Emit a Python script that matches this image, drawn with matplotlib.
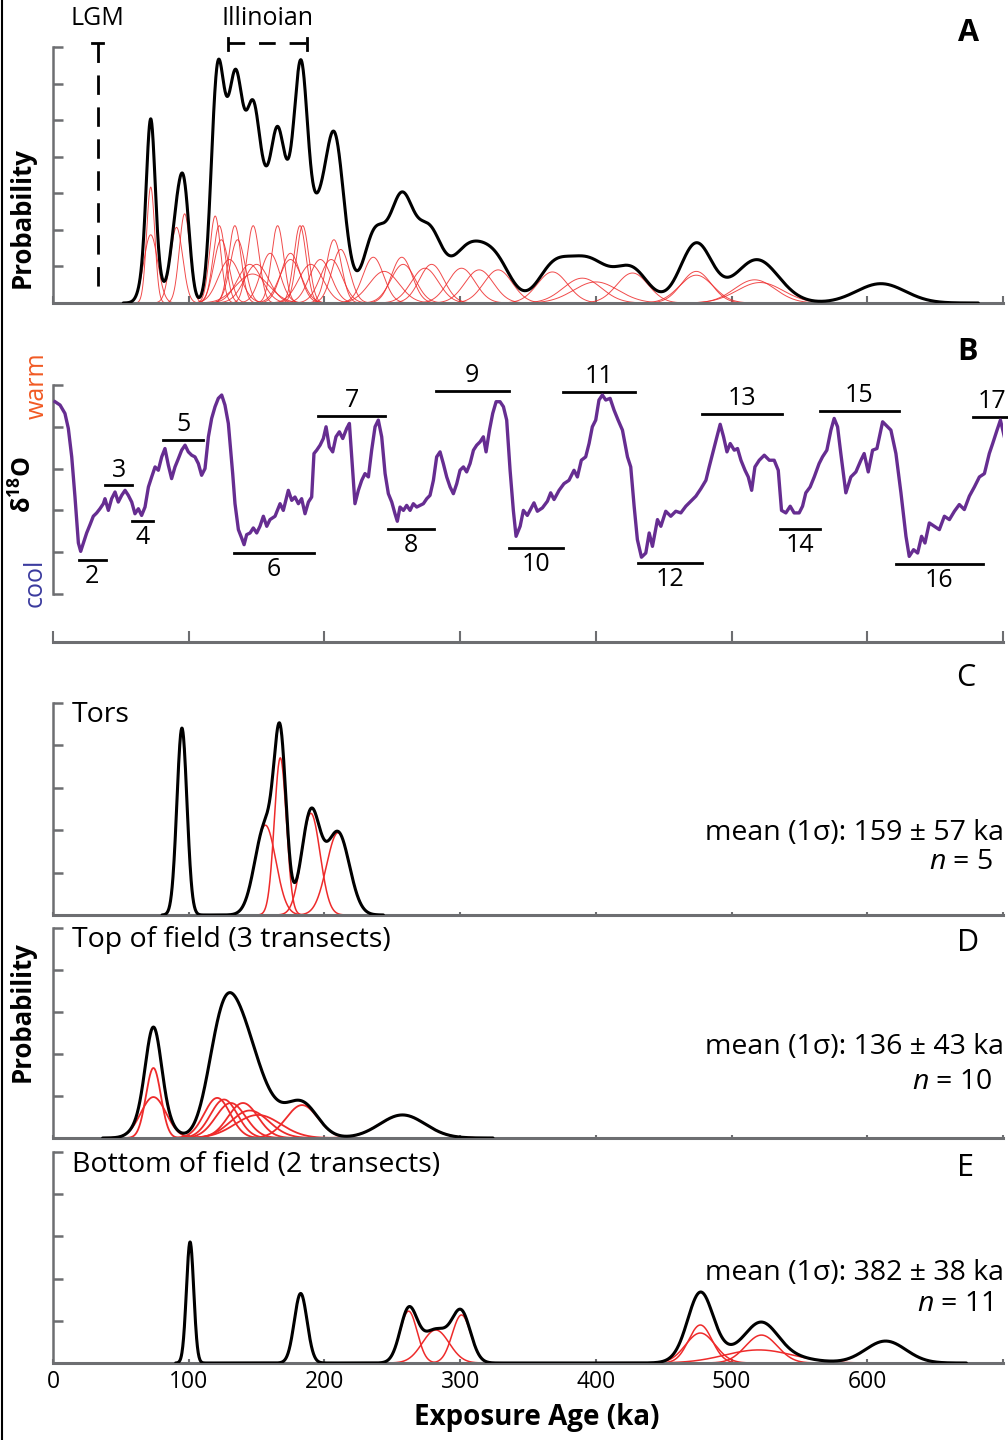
import numpy as np
import matplotlib
matplotlib.use('Agg')
import matplotlib.pyplot as plt
from matplotlib.lines import Line2D
from matplotlib.transforms import blended_transform_factory

plt.rcParams['font.family'] = ['Open Sans', 'DejaVu Sans']
plt.rcParams['mathtext.fontset'] = 'custom'
plt.rcParams['mathtext.rm'] = 'Open Sans'
plt.rcParams['mathtext.it'] = 'Open Sans:italic'
plt.rcParams['mathtext.bf'] = 'Open Sans:bold'

# ---------------- data ----------------
# panel A: all exposure ages (ka) and 1-sigma (ka)
ages_A = [72, 72, 91, 97, 119.5, 122.5, 124, 130, 134, 136, 145, 147, 147.5, 150, 160,
          165.5, 175, 175, 182, 184, 190, 197, 205, 207, 212,
          236, 244, 257, 258, 274, 279, 301, 314, 328, 368, 390, 400, 427, 474, 474,
          517, 521, 610]
sig_A = [3.0, 5.1, 4.6, 3.9, 4.0, 4.5, 5.5, 8, 4.5, 5.5, 9, 12, 4.5, 9, 7,
         4.5, 8, 7, 4.5, 4.5, 9, 8, 8, 5.5, 6.5,
         7.6, 11, 7.6, 9, 10, 9, 10, 10.5, 10.5, 11.2, 14, 16.5, 11.6, 11, 12.5,
         15, 17, 18]

# panel C: tors
ages_C = [95, 156.5, 167.5, 190, 210]
sig_C = [3.7, 7.7, 4.4, 6.8, 8.4]

# panel D: top of field
ages_D = [74, 74, 121, 126, 131, 140, 145, 151, 183.5, 257.5]
sig_D = [5.5, 9.4, 9.6, 10, 11, 11, 14, 16.7, 11.7, 16.7]

# panel E: bottom of field
ages_E = [101, 182.5, 262, 282, 301, 477, 477, 522, 520, 613.5]
sig_E = [2.7, 4.7, 6.3, 9.9, 6.8, 8.6, 10.9, 11.7, 25, 14.9]

# panel B: benthic d18O stack (per mil)
d18_age = [1.5, 5.2, 8.8, 11.3, 13.8, 16.2, 18.7, 20.4, 22.4, 24.8, 27.3, 29.7, 32.2, 34.6,
           37.1, 38.3, 40.8, 43.2, 45.7, 48.1, 50.6, 53.1, 55.5, 58, 60.4, 62.9, 65.3, 67.8,
           70.3, 72.7, 75.2, 77.6, 80.1, 82.5, 85, 87.4, 89.9, 92.4, 94.8, 97.3, 99.7, 102.2,
           104.6, 107.1, 109.5, 112, 114.5, 116.9, 119.4, 121.8, 124.3, 126.7, 129.2, 130.9,
           132.4, 134.1, 136.6, 139, 140.8, 142.7, 145.2, 147.6, 150.1, 152.5, 155, 157.5,
           159.9, 163.6, 167.3, 169.7, 173.4, 175.9, 178.3, 180.8, 183.2, 185.7, 188.2,
           190.6, 192.3, 194.3, 196.8, 199.2, 201.2, 203.6, 206.1, 208.5, 211, 213.5, 216.4,
           218.4, 220.1, 222.5, 225, 227.5, 229.9, 232.4, 234.8, 237.3, 239.7, 242.2, 244.7,
           247.1, 249.6, 252, 253.7, 255.7, 258.2, 260.6, 263.1, 265.5, 268, 270.4, 272.9,
           275.4, 277.8, 280.3, 282.7, 285.2, 287.6, 290.1, 292.6, 295, 297.5, 299.9, 302.4,
           304.8, 307.3, 309.8, 312.2, 314.7, 317.1, 319.1, 321.6, 324, 326.5, 329.4, 331.9,
           334.3, 336.8, 339.2, 341.2, 344.2, 346.6, 349.5,
           354.4, 356.9, 360.6, 364.3, 366.7, 369.2, 372.9, 376.5, 380.2, 383.9, 386.4,
           389.3, 392.5, 395, 397.4, 399.9, 402.3, 404.8, 407.3, 410.5, 413.4, 416.4, 419.6,
           423.3, 425.7, 428.2, 430.6, 433.6, 436.8, 439.3, 441.7, 445.4, 447.9, 451.5,
           455.2, 458.9, 462.6, 466.3, 470, 473.7, 477.4, 481.1, 483.5, 486, 489.2, 491.6,
           494.1, 496.6, 499, 502, 504.4, 506.9, 509.9, 512.3, 514.8, 517.2, 520.4, 524.1,
           527.8, 531.4, 534.4, 536.8, 540, 543.2, 546.1, 549.8, 552.3, 554.7, 557.9, 560.9,
           564.5, 567, 570.2, 573.2, 575.6, 578.1, 580.5, 584.2, 587.9, 591.6, 595.3, 597.7,
           600.7, 603.9, 607.1, 609.5, 611.3, 615, 617.4, 621.1, 624.8, 628.5, 630.9, 634.1,
           637.1, 640, 642.5, 645.7, 649.4, 653.1, 656.8, 660.5, 664.2, 667.8, 671.5, 675.2,
           678.9, 682.6, 686.3, 689.9, 692.4, 695.6, 698.1, 701]
d18_val = [3.20, 3.24, 3.34, 3.52, 3.86, 4.34, 4.89, 4.99, 4.89, 4.77, 4.67, 4.57, 4.53, 4.48,
           4.42, 4.36, 4.50, 4.36, 4.28, 4.40, 4.32, 4.26, 4.32, 4.40, 4.54, 4.48, 4.56, 4.46,
           4.22, 4.10, 3.98, 4.02, 3.86, 3.76, 3.96, 4.12, 3.98, 3.88, 3.78, 3.72, 3.80, 3.84,
           3.86, 3.94, 4.08, 4.00, 3.62, 3.40, 3.26, 3.16, 3.12, 3.24, 3.46, 3.78,
           4.06, 4.42, 4.73, 4.83, 4.91, 4.79, 4.77, 4.71, 4.77, 4.69, 4.57, 4.69,
           4.61, 4.57, 4.42, 4.50, 4.26, 4.38, 4.34, 4.42, 4.36, 4.54, 4.40,
           4.34, 3.82, 3.78, 3.72, 3.64, 3.50, 3.74, 3.80, 3.62, 3.56, 3.64, 3.52,
           3.46, 3.86, 4.42, 4.26, 4.14, 4.06, 4.10, 3.78, 3.50, 3.42, 3.62, 4.06,
           4.30, 4.40, 4.54, 4.63, 4.46, 4.50, 4.44, 4.50, 4.42, 4.46, 4.44, 4.42,
           4.36, 4.32, 4.14, 3.86, 3.80, 3.94, 4.10, 4.22, 4.30, 4.18, 4.02, 3.98,
           4.04, 3.94, 3.78, 3.72, 3.68, 3.62, 3.80, 3.54, 3.34, 3.20, 3.20, 3.26,
           3.42, 4.02, 4.50, 4.81, 4.69, 4.50, 4.56,
           4.41, 4.51, 4.47, 4.39, 4.29, 4.37, 4.26, 4.18, 4.14, 4.02, 4.10,
           3.90, 3.86, 3.70, 3.50, 3.42, 3.18, 3.12, 3.18, 3.16, 3.30, 3.42, 3.54,
           3.86, 3.98, 4.45, 4.85, 5.06, 5.01, 4.77, 4.93, 4.61, 4.69, 4.51,
           4.57, 4.51, 4.53, 4.45, 4.39, 4.33, 4.24, 4.14, 3.98, 3.82, 3.62, 3.47,
           3.62, 3.80, 3.70, 3.78, 3.76, 3.90, 4.02, 4.10, 4.26, 3.98, 3.90, 3.84,
           3.90, 3.90, 4.02, 4.50, 4.53, 4.45, 4.53, 4.53, 4.45, 4.29, 4.22, 4.10,
           3.94, 3.86, 3.78, 3.54, 3.40, 3.50, 3.82, 4.29, 4.10, 4.04, 3.90, 3.82,
           4.04, 3.78, 3.76, 3.58, 3.44, 3.50, 3.54, 3.82, 4.29, 4.81, 5.05, 4.97,
           5.01, 4.81, 4.89, 4.65, 4.69, 4.73, 4.57, 4.61, 4.51, 4.43, 4.49, 4.33,
           4.22, 4.10, 4.06, 3.82, 3.70, 3.54, 3.42, 3.62]

# marine isotope stages
mis_num = [2, 3, 4, 5, 6, 7, 8, 9, 10, 11, 12, 13, 14, 15, 16, 17]
mis_start = [19, 38.4, 58.3, 81, 133, 195.6, 247, 282, 336, 376, 431, 478, 536, 565, 621, 678]
mis_end = [39, 58.3, 73.8, 110.7, 192, 244.3, 281, 336, 376, 429, 478, 537, 565, 623, 685, 706]
mis_level = [5.09, 4.20, 4.63, 3.66, 5.01, 3.37, 4.72, 3.07, 4.95, 3.08, 5.13, 3.35,
             4.72, 3.31, 5.14, 3.38]

lgm_age = 33
illinoian = (128.7, 187.4)

stats_C = ('mean (1σ): 159 ± 57 ka', '$\\mathit{n}$ = 5')
stats_D = ('mean (1σ): 136 ± 43 ka', '$\\mathit{n}$ = 10')
stats_E = ('mean (1σ): 382 ± 38 ka', '$\\mathit{n}$ = 11')

# ---------------- style ----------------
GRAY = '#6d6e71'
RED = '#ee2b2b'
PURPLE = '#662d91'
W, H = 1008, 1440
XL, XW = 53, 950


def fx(px):
    return px / W


def fy(py):
    return 1 - py / H


def box(top, bot):
    return [XL / W, 1 - bot / H, XW / W, (bot - top) / H]


def gauss(x, mu, s):
    return np.exp(-0.5 * ((x - mu) / s) ** 2) / (s * np.sqrt(2 * np.pi))


def style(ax, ymax, nint, xtl):
    ax.set_xlim(0, 700)
    ax.set_ylim(0, ymax)
    for s in ['top', 'right']:
        ax.spines[s].set_visible(False)
    ax.spines['left'].set_color(GRAY)
    ax.spines['left'].set_linewidth(1.8)
    ax.spines['bottom'].set_color(GRAY)
    ax.spines['bottom'].set_linewidth(2.2)
    ax.set_yticks(np.linspace(0, ymax, nint + 1))
    ax.set_xticks(np.arange(0, 701, 100))
    ax.tick_params(axis='y', direction='in', length=7, width=1.8, color=GRAY, labelleft=False)
    ax.tick_params(axis='x', direction='in', length=xtl, width=1.5, color=GRAY, labelbottom=False)


def prob(ax, ages, sigs, red_lw, red_alpha):
    x = np.linspace(0, 700, 3501)
    total = np.zeros_like(x)
    for a, s in zip(ages, sigs):
        p = gauss(x, a, s)
        total += p
        m = (x > a - 4 * s) & (x < a + 4 * s)
        ax.plot(x[m], p[m], color=RED, lw=red_lw, alpha=red_alpha, zorder=2)
    lo = min(a - 4 * s for a, s in zip(ages, sigs))
    hi = max(a + 4 * s for a, s in zip(ages, sigs))
    m = (x > lo) & (x < hi)
    ax.plot(x[m], total[m], color='black', lw=2.2, zorder=3, solid_capstyle='round')


fig = plt.figure(figsize=(W / 100, H / 100), dpi=100)

# ---------------- A ----------------
axA = fig.add_axes(box(47, 303))
style(axA, 0.2936, 7, 5)
prob(axA, ages_A, sig_A, 0.7, 0.85)
tA = blended_transform_factory(axA.transData, axA.transAxes)
axA.plot([lgm_age, lgm_age], [1.017, 0.05], transform=tA, color='black', lw=2,
         linestyle=(0, (7, 4.5)), clip_on=False)
axA.plot([lgm_age - 4, lgm_age + 4], [1.017, 1.017], transform=tA, color='black', lw=2,
         clip_on=False)
axA.text(lgm_age, 1.113, 'LGM', transform=tA, ha='center', va='center', fontsize=18)
axA.plot(illinoian, [1.017, 1.017], transform=tA, color='black', lw=2,
         linestyle=(0, (6, 5)), clip_on=False)
for xi in illinoian:
    axA.plot([xi, xi], [0.988, 1.035], transform=tA, color='black', lw=2, clip_on=False)
axA.text(np.mean(illinoian), 1.113, 'Illinoian', transform=tA, ha='center', va='center',
         fontsize=18)

# ---------------- B ----------------
axB = fig.add_axes(box(340, 642))
axB.set_xlim(0, 700)
axB.set_ylim(6.074, 2.462)
for s in ['top', 'right']:
    axB.spines[s].set_visible(False)
axB.spines['left'].set_bounds(3.0, 5.5)
axB.spines['left'].set_color(GRAY)
axB.spines['left'].set_linewidth(1.8)
axB.spines['bottom'].set_color(GRAY)
axB.spines['bottom'].set_linewidth(2.2)
axB.set_yticks(np.arange(3.0, 5.51, 0.5))
axB.set_xticks(np.arange(0, 701, 100))
axB.tick_params(axis='y', direction='in', length=7, width=1.8, color=GRAY, labelleft=False)
axB.tick_params(axis='x', direction='in', length=8, width=1.5, color=GRAY, labelbottom=False)
axB.plot(d18_age, d18_val, color=PURPLE, lw=2.4, zorder=3)
for n, a0, a1, lev in zip(mis_num, mis_start, mis_end, mis_level):
    axB.plot([a0, a1], [lev, lev], color='black', lw=2, clip_on=False)
    if n % 2:
        axB.annotate(str(n), ((a0 + a1) / 2, lev), xytext=(0, 2), textcoords='offset points',
                     ha='center', va='bottom', fontsize=18, annotation_clip=False)
    else:
        axB.annotate(str(n), ((a0 + a1) / 2, lev), xytext=(0, -3), textcoords='offset points',
                     ha='center', va='top', fontsize=18, annotation_clip=False)

# ---------------- C, D, E ----------------
axC = fig.add_axes(box(703, 915))
style(axC, 0.1223, 5, 2.5)
prob(axC, ages_C, sig_C, 1.1, 1.0)

axD = fig.add_axes(box(928, 1138))
style(axD, 0.2176, 5, 2.5)
prob(axD, ages_D, sig_D, 1.3, 1.0)

axE = fig.add_axes(box(1152, 1363))
style(axE, 0.2576, 5, 3)
prob(axE, ages_E, sig_E, 1.1, 1.0)
axE.set_xticks(np.arange(0, 701, 100))
axE.set_xticklabels(['0', '100', '200', '300', '400', '500', '600', ''])
axE.tick_params(axis='x', labelbottom=True, labelsize=16.5, pad=5)

# ---------------- text ----------------
fig.text(fx(22), fy(218), 'Probability', rotation=90, ha='center', va='center',
         fontsize=18.5, fontweight='bold')
fig.text(fx(22), fy(1012), 'Probability', rotation=90, ha='center', va='center',
         fontsize=18.5, fontweight='bold')
fig.text(fx(537), fy(1418), 'Exposure Age (ka)', ha='center', va='center',
         fontsize=20, fontweight='bold')
fig.text(fx(37), fy(386), 'warm', rotation=90, ha='center', va='center', fontsize=18,
         color='#f15a24')
fig.text(fx(35), fy(583), 'cool', rotation=90, ha='center', va='center', fontsize=18,
         color='#3a3a9e')
fig.text(fx(24), fy(485), '$\\mathbf{δ^{18}O}$', rotation=90, ha='center', va='center',
         fontsize=18)

for lab, px, py, wt in [('A', 968, 33, 'bold'), ('B', 968, 352, 'bold'),
                        ('C', 966, 678, 'normal'), ('D', 968, 943, 'normal'),
                        ('E', 966, 1168, 'normal')]:
    fig.text(fx(px), fy(py), lab, ha='center', va='center', fontsize=22, fontweight=wt)

fig.text(fx(72), fy(715), 'Tors', ha='left', va='center', fontsize=20.5)
fig.text(fx(72), fy(940), 'Top of field (3 transects)', ha='left', va='center', fontsize=20.5)
fig.text(fx(72), fy(1165), 'Bottom of field (2 transects)', ha='left', va='center',
         fontsize=20.5)

for st, y1, y2 in [(stats_C, 833, 862), (stats_D, 1047, 1082), (stats_E, 1273, 1304)]:
    fig.text(fx(1004), fy(y1), st[0], ha='right', va='center', fontsize=20.5)
    fig.text(fx(993), fy(y2), st[1], ha='right', va='center', fontsize=20.5)

fig.add_artist(Line2D([fx(2), fx(2)], [0, 1], color='black', lw=1.5))

fig.savefig('out.png', dpi=100)
